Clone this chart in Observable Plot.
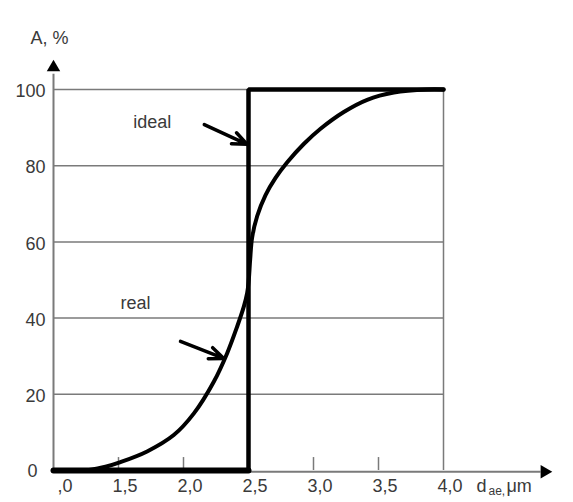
<!DOCTYPE html>
<html>
<head>
<meta charset="utf-8">
<script src="https://cdn.jsdelivr.net/npm/d3@7"></script>
<script src="https://cdn.jsdelivr.net/npm/@observablehq/plot@0.6"></script>
<style>
  html, body { margin: 0; padding: 0; background: #fff; }
  svg { display: block; }
</style>
</head>
<body>
<div id="chart"></div>
<script>
// Data
const xTicks = [1.0, 1.5, 2.0, 2.5, 3.0, 3.5, 4.0];
const xTickLabels = [",0", "1,5", "2,0", "2,5", "3,0", "3,5", "4,0"];
const yTicks = [0, 20, 40, 60, 80, 100];
const yTickLabels = ["0", "20", "40", "60", "80", "100"];
const minorTicks = [1.5, 2.0, 3.0, 3.5];

const idealX = [1.0, 2.5, 2.5, 4.0];
const idealY = [0, 0, 100, 100];

const realX = [1.25, 1.4, 1.515, 1.72, 1.925, 2.08, 2.233, 2.336, 2.413, 2.464, 2.49, 2.502, 2.513, 2.528, 2.567, 2.631, 2.708, 2.798, 2.925, 3.054, 3.233, 3.413, 3.618, 3.875, 4.0];
const realY = [0, 1.0, 2.2, 5.0, 9.3, 15.0, 23.3, 30.8, 37.8, 43.0, 46.6, 50, 55.5, 61.2, 66.8, 72.3, 76.8, 80.9, 85.7, 89.7, 94.1, 97.3, 99.2, 100, 100];

const labels = [
  {name: "ideal", x: 1.76, y: 91.3},
  {name: "real", x: 1.63, y: 44}
];
const arrows = [
  {x1: 2.16, y1: 90.8, x2: 2.49, y2: 85.6},
  {x1: 1.977, y1: 33.9, x2: 2.31, y2: 29.4}
];

const ideal = idealX.map((x, i) => ({x, y: idealY[i]}));
const idealBottom = ideal.slice(0, 2);
const real = realX.map((x, i) => ({x, y: realY[i]}));

const font = "'Liberation Sans', Arial, sans-serif";
const textColor = "#3a3a3a";
const gridColor = "#7a7a7a";

const chart = Plot.plot({
  width: 573,
  height: 502,
  style: {fontFamily: font, background: "#fff", overflow: "visible"},
  x: {domain: [1, 4], range: [53, 443], axis: null},
  y: {domain: [0, 100], range: [470, 89], axis: null},
  marks: [
    // horizontal grid lines
    Plot.ruleY(yTicks.filter(d => d > 0), {x1: 1, x2: 4, stroke: gridColor, strokeWidth: 1.5}),
    // vertical grid at 4.0
    Plot.ruleX([4], {y1: 0, y2: 100, stroke: gridColor, strokeWidth: 1.5}),
    // minor ticks
    Plot.ruleX(minorTicks, {y1: 0, y2: 3.4, stroke: gridColor, strokeWidth: 1.5}),
    // axes
    Plot.ruleX([1], {y1: 0, y2: 104, stroke: gridColor, strokeWidth: 2}),
    Plot.ruleY([-0.3], {x1: 1, x2: 4.75, stroke: gridColor, strokeWidth: 2}),
    Plot.dot([{x: 1, y: 105.8}], {x: "x", y: "y", symbol: "triangle", r: 5, fill: "#000", stroke: "none"}),
    Plot.dot([{x: 4.777, y: -0.3}], {x: "x", y: "y", symbol: "triangle", r: 5, fill: "#000", stroke: "none", rotate: 90}),
    // curves
    Plot.line(real, {x: "x", y: "y", curve: "catmull-rom", stroke: "#000", strokeWidth: 4}),
    Plot.line(ideal, {x: "x", y: "y", stroke: "#000", strokeWidth: 4.5, strokeLinejoin: "miter"}),
    Plot.line(idealBottom, {x: "x", y: "y", stroke: "#000", strokeWidth: 6}),
    // arrows
    Plot.arrow(arrows, {x1: "x1", y1: "y1", x2: "x2", y2: "y2", stroke: "#000", strokeWidth: 3.5, headLength: 11, headAngle: 45}),
    // annotation labels
    Plot.text(labels, {x: "x", y: "y", text: "name", fontSize: 18, fill: textColor}),
    // y tick labels
    Plot.text(yTicks.slice(1), {x: 1, y: d => d, text: (d, i) => yTickLabels[i + 1], textAnchor: "end", dx: -8, dy: 2, fontSize: 18, fill: textColor}),
    Plot.text(yTicks.slice(0, 1), {x: 1, y: d => d, text: (d, i) => yTickLabels[i], textAnchor: "end", dx: -16, dy: 1, fontSize: 18, fill: textColor}),
    // x tick labels
    Plot.text(xTicks, {x: d => d, y: 0, text: (d, i) => xTickLabels[i], textAnchor: "end", dx: 19, dy: 16, fontSize: 18, fill: textColor}),
    // axis titles
    Plot.text(["A, %"], {x: 1, y: 100, text: d => d, dx: -4, dy: -51, fontSize: 18, fill: textColor}),
    Plot.text(["d"], {x: 4, y: 0, text: d => d, textAnchor: "start", dx: 33, dy: 16, fontSize: 18, fill: textColor}),
    Plot.text(["ae,"], {x: 4, y: 0, text: d => d, textAnchor: "start", dx: 45, dy: 21, fontSize: 12, fill: textColor}),
    Plot.text(["μm"], {x: 4, y: 0, text: d => d, textAnchor: "start", dx: 63, dy: 16, fontSize: 18, fill: textColor})
  ]
});

document.getElementById("chart").appendChild(chart);
</script>
</body>
</html>
